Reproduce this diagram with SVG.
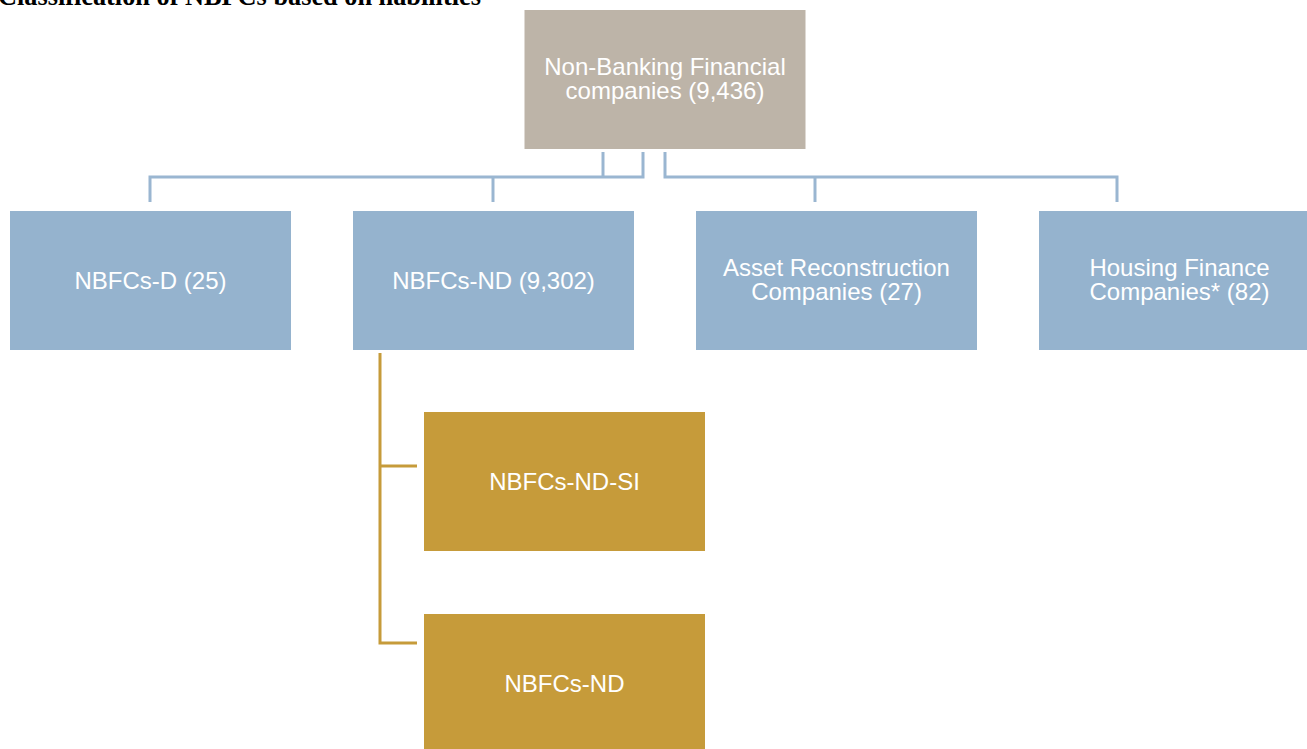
<svg xmlns="http://www.w3.org/2000/svg" width="1307" height="749" viewBox="0 0 1307 749">
<style>
.title{font-family:"Liberation Serif","Times New Roman",serif;font-weight:bold;font-size:26.3px;fill:#000}
.lbl{font-family:"Liberation Sans",Arial,sans-serif;font-size:24px;fill:#fff;text-anchor:middle}
.root{fill:#BDB4A8}
.blue{fill:#95B3CE}
.gold{fill:#C69B3A}
.cb{fill:none;stroke:#9AB6D1;stroke-width:3}
.cg{fill:none;stroke:#C69B3A;stroke-width:3}
</style>
<rect width="1307" height="749" fill="#fff"/>
<text class="title" x="-2" y="5">Classification of NBFCs based on liabilities</text>
<g id="connectors">
<path class="cb" d="M643,152 V177 H150 V202"/>
<path class="cb" d="M603,152 V177"/>
<path class="cb" d="M493,177 V202"/>
<path class="cb" d="M665,152 V177 H1117 V202"/>
<path class="cb" d="M815,177 V202"/>
<path class="cg" d="M380,353 V643 H417"/>
<path class="cg" d="M380,466 H417"/>
</g>
<g id="nbfc">
<rect class="root" x="524.5" y="10" width="281" height="139"/>
<text class="lbl" x="665" y="75">Non-Banking Financial</text>
<text class="lbl" x="665" y="99">companies (9,436)</text>
</g>
<g id="nbfcs-d">
<rect class="blue" x="10" y="211" width="281" height="139"/>
<text class="lbl" x="150.5" y="288.5">NBFCs-D (25)</text>
</g>
<g id="nbfcs-nd">
<rect class="blue" x="353" y="211" width="281" height="139"/>
<text class="lbl" x="493.5" y="288.5">NBFCs-ND (9,302)</text>
</g>
<g id="arc">
<rect class="blue" x="696" y="211" width="281" height="139"/>
<text class="lbl" x="836.5" y="276">Asset Reconstruction</text>
<text class="lbl" x="836.5" y="300">Companies (27)</text>
</g>
<g id="hfc">
<rect class="blue" x="1039" y="211" width="281" height="139"/>
<text class="lbl" x="1179.5" y="276">Housing Finance</text>
<text class="lbl" x="1179.5" y="300">Companies* (82)</text>
</g>
<g id="nbfcs-nd-si">
<rect class="gold" x="424" y="412" width="281" height="139"/>
<text class="lbl" x="564.5" y="490">NBFCs-ND-SI</text>
</g>
<g id="nbfcs-nd-2">
<rect class="gold" x="424" y="614" width="281" height="139"/>
<text class="lbl" x="564.5" y="691.5">NBFCs-ND</text>
</g>
</svg>
